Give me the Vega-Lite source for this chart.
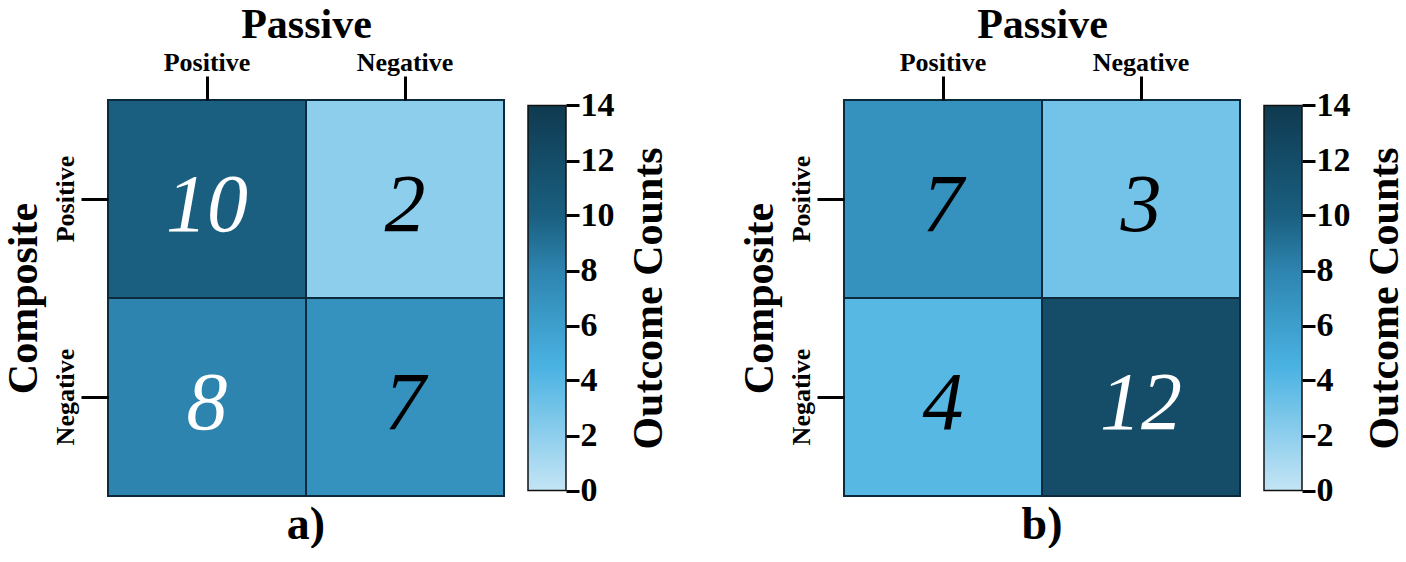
{
  "$schema": "https://vega.github.io/schema/vega-lite/v6.json",
  "background": "white",
  "padding": {"left": 2, "top": 3, "right": 0, "bottom": 0},
  "datasets": {
    "counts": [
      {"panel": "a", "passive": "Positive", "composite": "Positive", "count": 10},
      {"panel": "a", "passive": "Negative", "composite": "Positive", "count": 2},
      {"panel": "a", "passive": "Positive", "composite": "Negative", "count": 8},
      {"panel": "a", "passive": "Negative", "composite": "Negative", "count": 7},
      {"panel": "b", "passive": "Positive", "composite": "Positive", "count": 7},
      {"panel": "b", "passive": "Negative", "composite": "Positive", "count": 3},
      {"panel": "b", "passive": "Positive", "composite": "Negative", "count": 4},
      {"panel": "b", "passive": "Negative", "composite": "Negative", "count": 12}
    ],
    "colorbar": [{"low": 0, "high": 14}]
  },
  "config": {
    "font": "Liberation Serif",
    "view": {"stroke": null},
    "axis": {
      "labelFont": "Liberation Serif",
      "titleFont": "Liberation Serif",
      "labelFontWeight": "bold",
      "titleFontWeight": "bold",
      "labelColor": "black",
      "titleColor": "black",
      "tickColor": "black",
      "domain": false,
      "grid": false
    },
    "title": {"font": "Liberation Serif", "fontWeight": "bold", "fontSize": 46, "color": "black"}
  },
  "resolve": {"scale": {"x": "independent", "y": "independent", "color": "independent"}},
  "spacing": 69,
  "hconcat": [
    {
      "spacing": 22,
      "resolve": {"scale": {"x": "independent", "y": "independent"}},
      "hconcat": [
        {
          "width": 396,
          "height": 396,
          "title": {"text": "a)", "orient": "bottom", "anchor": "middle", "offset": 6},
          "data": {"name": "counts"},
          "transform": [{"filter": "datum.panel === 'a'"}],
          "encoding": {
            "x": {
              "field": "passive", "type": "nominal", "sort": ["Positive", "Negative"],
              "scale": {"paddingInner": 0, "paddingOuter": 0},
              "axis": {"orient": "top", "title": "Passive", "labelAngle": 0, "labelFontSize": 26, "titleFontSize": 42, "tickSize": 24, "tickWidth": 3, "labelPadding": 1, "titlePadding": 3}
            },
            "y": {
              "field": "composite", "type": "nominal", "sort": ["Positive", "Negative"],
              "scale": {"paddingInner": 0, "paddingOuter": 0},
              "axis": {"title": "Composite", "labelAngle": -90, "labelFontSize": 26, "titleFontSize": 42, "tickSize": 27, "tickWidth": 3, "labelPadding": 3, "titlePadding": 7}
            }
          },
          "layer": [
            {
              "mark": {"type": "rect", "stroke": "#0b2b3c", "strokeWidth": 2},
              "encoding": {
                "color": {
                  "field": "count", "type": "quantitative", "legend": null,
                  "scale": {"domain": [0, 4.5, 8, 10, 14], "range": ["#c4e5f5", "#4ab2e2", "#2d84af", "#1a5f80", "#0f3a50"], "interpolate": "rgb"}
                }
              }
            },
            {
              "mark": {"type": "text", "font": "Liberation Serif", "fontStyle": "italic", "fontSize": 82, "dy": 7},
              "encoding": {
                "text": {"field": "count", "type": "quantitative"},
                "color": {"condition": {"test": "datum.count >= 8", "value": "white"}, "value": "black"}
              }
            }
          ]
        },
        {
          "width": 38,
          "height": 396,
          "data": {"name": "colorbar"},
          "mark": {
            "type": "rect",
            "stroke": "#111111",
            "strokeWidth": 1.5,
            "fill": {
              "gradient": "linear", "x1": 0, "y1": 1, "x2": 0, "y2": 0,
              "stops": [
                {"offset": 0, "color": "#c4e5f5"},
                {"offset": 0.3214, "color": "#4ab2e2"},
                {"offset": 0.5714, "color": "#2d84af"},
                {"offset": 0.7143, "color": "#1a5f80"},
                {"offset": 1, "color": "#0f3a50"}
              ]
            }
          },
          "encoding": {
            "y": {
              "field": "low", "type": "quantitative",
              "scale": {"domain": [-0.2, 14.2], "nice": false, "zero": false},
              "axis": {"orient": "right", "values": [0, 2, 4, 6, 8, 10, 12, 14], "title": "Outcome Counts", "titleAngle": 270, "titleBaseline": "top", "labelFontSize": 34, "titleFontSize": 42, "tickSize": 13, "tickWidth": 3, "labelPadding": 1, "titlePadding": 14}
            },
            "y2": {"field": "high"}
          }
        }
      ]
    },
    {
      "spacing": 22,
      "resolve": {"scale": {"x": "independent", "y": "independent"}},
      "hconcat": [
        {
          "width": 396,
          "height": 396,
          "title": {"text": "b)", "orient": "bottom", "anchor": "middle", "offset": 6},
          "data": {"name": "counts"},
          "transform": [{"filter": "datum.panel === 'b'"}],
          "encoding": {
            "x": {
              "field": "passive", "type": "nominal", "sort": ["Positive", "Negative"],
              "scale": {"paddingInner": 0, "paddingOuter": 0},
              "axis": {"orient": "top", "title": "Passive", "labelAngle": 0, "labelFontSize": 26, "titleFontSize": 42, "tickSize": 24, "tickWidth": 3, "labelPadding": 1, "titlePadding": 3}
            },
            "y": {
              "field": "composite", "type": "nominal", "sort": ["Positive", "Negative"],
              "scale": {"paddingInner": 0, "paddingOuter": 0},
              "axis": {"title": "Composite", "labelAngle": -90, "labelFontSize": 26, "titleFontSize": 42, "tickSize": 27, "tickWidth": 3, "labelPadding": 3, "titlePadding": 7}
            }
          },
          "layer": [
            {
              "mark": {"type": "rect", "stroke": "#0b2b3c", "strokeWidth": 2},
              "encoding": {
                "color": {
                  "field": "count", "type": "quantitative", "legend": null,
                  "scale": {"domain": [0, 4.5, 8, 10, 14], "range": ["#c4e5f5", "#4ab2e2", "#2d84af", "#1a5f80", "#0f3a50"], "interpolate": "rgb"}
                }
              }
            },
            {
              "mark": {"type": "text", "font": "Liberation Serif", "fontStyle": "italic", "fontSize": 82, "dy": 7},
              "encoding": {
                "text": {"field": "count", "type": "quantitative"},
                "color": {"condition": {"test": "datum.count >= 8", "value": "white"}, "value": "black"}
              }
            }
          ]
        },
        {
          "width": 38,
          "height": 396,
          "data": {"name": "colorbar"},
          "mark": {
            "type": "rect",
            "stroke": "#111111",
            "strokeWidth": 1.5,
            "fill": {
              "gradient": "linear", "x1": 0, "y1": 1, "x2": 0, "y2": 0,
              "stops": [
                {"offset": 0, "color": "#c4e5f5"},
                {"offset": 0.3214, "color": "#4ab2e2"},
                {"offset": 0.5714, "color": "#2d84af"},
                {"offset": 0.7143, "color": "#1a5f80"},
                {"offset": 1, "color": "#0f3a50"}
              ]
            }
          },
          "encoding": {
            "y": {
              "field": "low", "type": "quantitative",
              "scale": {"domain": [-0.2, 14.2], "nice": false, "zero": false},
              "axis": {"orient": "right", "values": [0, 2, 4, 6, 8, 10, 12, 14], "title": "Outcome Counts", "titleAngle": 270, "titleBaseline": "top", "labelFontSize": 34, "titleFontSize": 42, "tickSize": 13, "tickWidth": 3, "labelPadding": 1, "titlePadding": 14}
            },
            "y2": {"field": "high"}
          }
        }
      ]
    }
  ]
}
